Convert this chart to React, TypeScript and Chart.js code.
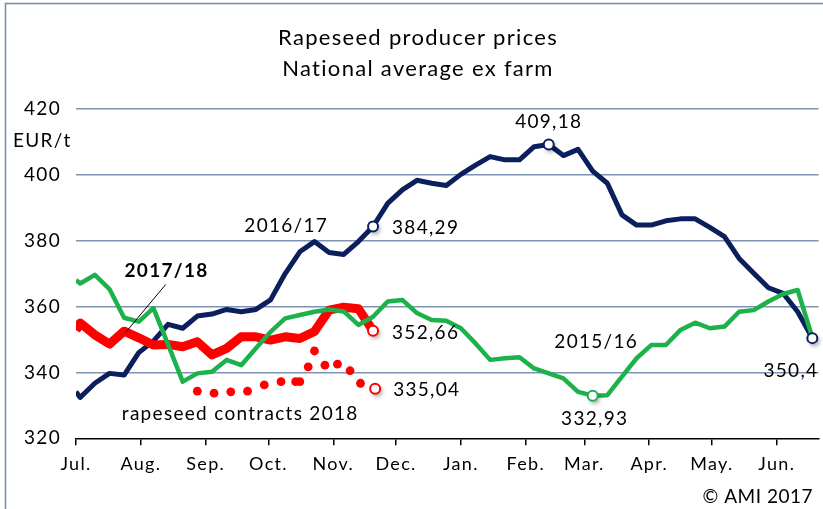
import React, { useEffect, useRef } from 'react';
import { Chart, registerables } from 'chart.js';

Chart.register(...registerables);

// ---- axis data ----
const monthLabels = ['Jul.', 'Aug.', 'Sep.', 'Oct.', 'Nov.', 'Dec.', 'Jan.', 'Feb.', 'Mar.', 'Apr.', 'May.', 'Jun.'];
const monthStartDays = [0, 31, 62, 92, 123, 153, 184, 215, 243, 274, 304, 335];
const yTickValues = [320, 340, 360, 380, 400, 420];

// ---- observation dates (days since 1 July) ----
const weekDays = [
  0, 2, 9, 16, 23, 30, 37, 44, 51, 58, 65, 72, 79, 86, 93, 100, 107, 114, 121, 128, 135, 142,
  149, 156, 163, 170, 177, 184, 191, 198, 205, 212, 219, 226, 233, 240, 247, 254, 261, 268,
  275, 282, 289, 296, 303, 310, 317, 324, 331, 338, 345, 352,
];

// ---- series values (EUR/t) ----
const prices2016_17 = [
  334.1, 332.4, 336.7, 339.7, 339.2, 346.0, 349.5, 354.6, 353.4, 357.1, 357.7, 359.1, 358.4, 359.1,
  362.0, 370.0, 376.6, 379.7, 376.4, 375.8, 379.7, 384.29, 391.3, 395.4, 398.3, 397.4, 396.7,
  400.1, 402.9, 405.5, 404.5, 404.5, 408.5, 409.18, 405.8, 407.7, 401.1, 397.4, 387.8, 384.7,
  384.7, 386.0, 386.6, 386.6, 384.0, 381.2, 374.6, 370.1, 365.7, 364.0, 358.4, 350.4,
];
const prices2015_16 = [
  368.0, 367.0, 369.6, 365.3, 356.6, 355.4, 359.5, 348.5, 337.2, 339.7, 340.2, 343.8, 342.2,
  347.3, 352.3, 356.4, 357.4, 358.4, 359.1, 358.5, 354.4, 356.9, 361.5, 362.0, 358.0, 355.9,
  355.7, 353.4, 348.8, 343.8, 344.3, 344.6, 341.2, 339.7, 338.2, 334.1, 332.93, 333.1, 338.7,
  344.3, 348.3, 348.3, 352.9, 355.1, 353.4, 353.9, 358.4, 358.9, 361.5, 363.8, 365.0, 350.6,
];
const prices2017_18 = [
  352.8, 355.0, 351.4, 348.6, 352.5, 350.5, 348.3, 348.5, 347.8, 349.3, 345.3, 347.3, 350.8,
  350.8, 349.8, 350.8, 350.3, 352.4, 358.9, 359.8, 359.3, 352.66,
];

// rapeseed contracts 2018
const contractDays = [58, 66, 74, 82, 90, 98, 105, 107, 111, 114, 119, 125, 131, 136, 143];
const contractPrices = [334.3, 333.7, 334.1, 334.3, 336.2, 337.2, 337.2, 337.2, 341.7, 346.5, 342.2, 342.5, 340.5, 336.7, 335.04];

// highlighted points (days)
const markers2016_17 = [142, 226, 352];
const markers2015_16 = [247];
const markers2017_18 = [142];
const markersContracts = [143];

const BLUE = '#0B1F5C';
const GREEN = '#1DB14B';
const RED = '#FF0000';
const GRID = '#7D93B3';
const FONT = 'Lato, "Open Sans", sans-serif';
const SPACING = '1.3px';

const toPoints = (days: number[], vals: number[]) => vals.map((v, i) => ({ x: days[i], y: v }));

const fmt = (v: number) => String(v).replace('.', ',');

const spacingPlugin = {
  id: 'spacing',
  beforeLayout(chart: any) {
    chart.ctx.letterSpacing = SPACING;
  },
  beforeDraw(chart: any) {
    chart.ctx.letterSpacing = SPACING;
  },
};

const decorPlugin = {
  id: 'decor',
  afterDatasetsDraw(chart: any) {
    const { ctx, scales } = chart;
    const xs = scales.x;
    const ys = scales.y;
    const px = (d: number) => xs.getPixelForValue(d);
    const py = (v: number) => ys.getPixelForValue(v);

    // open markers with a soft shadow
    const drawMarker = (d: number, v: number, color: string) => {
      ctx.save();
      ctx.shadowColor = 'rgba(0,0,0,0.35)';
      ctx.shadowBlur = 4;
      ctx.shadowOffsetX = 2;
      ctx.shadowOffsetY = 3;
      ctx.beginPath();
      ctx.arc(px(d), py(v), 5, 0, Math.PI * 2);
      ctx.fillStyle = '#fff';
      ctx.fill();
      ctx.shadowColor = 'rgba(0,0,0,0)';
      ctx.lineWidth = 2;
      ctx.strokeStyle = color;
      ctx.stroke();
      ctx.restore();
    };
    markers2016_17.forEach((d) => drawMarker(d, prices2016_17[weekDays.indexOf(d)], BLUE));
    markers2015_16.forEach((d) => drawMarker(d, prices2015_16[weekDays.indexOf(d)], GREEN));
    markers2017_18.forEach((d) => drawMarker(d, prices2017_18[weekDays.indexOf(d)], RED));
    markersContracts.forEach((d) => drawMarker(d, contractPrices[contractDays.indexOf(d)], RED));

    ctx.save();
    ctx.letterSpacing = SPACING;
    ctx.fillStyle = '#000';
    ctx.textBaseline = 'middle';
    ctx.font = `19px ${FONT}`;

    // value labels
    ctx.textAlign = 'left';
    ctx.fillText(fmt(prices2016_17[21]), px(weekDays[21]) + 19, py(prices2016_17[21]) + 1);
    ctx.fillText(fmt(prices2017_18[21]), px(weekDays[21]) + 19, py(prices2017_18[21]) + 2);
    ctx.fillText(fmt(contractPrices[14]), px(contractDays[14]) + 18, py(contractPrices[14]) + 1);
    ctx.textAlign = 'center';
    ctx.fillText(fmt(prices2016_17[33]), px(weekDays[33]), py(prices2016_17[33]) - 23);
    ctx.fillText(fmt(prices2015_16[36]), px(weekDays[36]) + 2, py(prices2015_16[36]) + 23);
    ctx.textAlign = 'right';
    ctx.fillText(fmt(prices2016_17[51]), px(weekDays[51]) + 6, py(prices2016_17[51]) + 33);

    // series names
    ctx.textAlign = 'center';
    ctx.fillText('2016/17', px(100.5), py(384.4));
    ctx.fillText('2015/16', px(248.7), py(349.2));
    ctx.font = `bold 19px ${FONT}`;
    ctx.fillText('2017/18', px(43.3), py(370.8));
    ctx.font = `19px ${FONT}`;
    ctx.textAlign = 'left';
    ctx.fillText('rapeseed contracts 2018', px(21.9), py(327.3));

    // leader line
    ctx.strokeStyle = '#000';
    ctx.lineWidth = 1;
    ctx.beginPath();
    ctx.moveTo(px(42.9), py(366.7));
    ctx.lineTo(px(23.8), py(352.2));
    ctx.stroke();

    // unit
    ctx.textAlign = 'left';
    ctx.fillText('EUR/t', 13, py(410.2));

    // copyright
    ctx.letterSpacing = '0.5px';
    ctx.textAlign = 'right';
    ctx.fillText('\u00A9 AMI 2017', 813, 497);

    // title
    ctx.letterSpacing = SPACING;
    ctx.textAlign = 'center';
    ctx.font = `22px ${FONT}`;
    ctx.fillText('Rapeseed producer prices', 418, 38);
    ctx.fillText('National average ex farm', 418, 69);

    // frame
    ctx.strokeStyle = '#6F8BB0';
    ctx.lineWidth = 1.5;
    ctx.strokeRect(5.5, 3.5, 900, 600);
    ctx.restore();
  },
};

export default function App() {
  const ref = useRef<HTMLCanvasElement | null>(null);

  useEffect(() => {
    if (!ref.current) return;
    const chart = new Chart(ref.current, {
      type: 'line',
      data: {
        datasets: [
          {
            label: '2015/16',
            data: toPoints(weekDays, prices2015_16),
            borderColor: GREEN,
            borderWidth: 4.5,
            borderJoinStyle: 'round',
            pointRadius: 0,
            tension: 0,
          },
          {
            label: '2017/18',
            data: toPoints(weekDays, prices2017_18),
            borderColor: RED,
            borderWidth: 9,
            borderJoinStyle: 'round',
            pointRadius: 0,
            tension: 0,
          },
          {
            label: '2016/17',
            data: toPoints(weekDays, prices2016_17),
            borderColor: BLUE,
            borderWidth: 5,
            borderJoinStyle: 'round',
            pointRadius: 0,
            tension: 0,
          },
          {
            label: 'rapeseed contracts 2018',
            data: toPoints(contractDays, contractPrices),
            showLine: false,
            borderColor: RED,
            pointRadius: (c: any) => (c.raw && markersContracts.includes(c.raw.x) ? 0 : 4.4),
            pointBackgroundColor: RED,
            pointBorderColor: RED,
            pointBorderWidth: 0,
          },
        ],
      },
      options: {
        responsive: false,
        animation: false,
        events: [],
        layout: { padding: { top: 108.8, right: 2.3, left: 0, bottom: 0 } },
        plugins: {
          legend: { display: false },
          tooltip: { enabled: false },
          title: { display: false },
        },
        scales: {
          x: {
            type: 'linear',
            min: 0,
            max: 355,
            afterFit: (s: any) => {
              s.height = 70.7;
            },
            afterBuildTicks: (s: any) => {
              s.ticks = monthStartDays.map((v) => ({ value: v }));
            },
            ticks: {
              autoSkip: false,
              maxRotation: 0,
              color: '#000',
              padding: 8,
              font: { family: FONT, size: 18 },
              callback: (_v: any, i: number) => monthLabels[i],
            },
            grid: {
              drawOnChartArea: false,
              drawTicks: true,
              tickLength: 7,
              color: '#000',
              lineWidth: 1.5,
            },
            border: { display: true, color: '#000', width: 1.5 },
          },
          y: {
            type: 'linear',
            min: 320,
            max: 420,
            afterFit: (s: any) => {
              s.width = 76;
            },
            afterBuildTicks: (s: any) => {
              s.ticks = yTickValues.map((v) => ({ value: v }));
            },
            ticks: {
              color: '#000',
              padding: 15,
              font: { family: FONT, size: 19 },
            },
            grid: {
              drawTicks: false,
              color: (c: any) => (c.tick && c.tick.value === 320 ? 'rgba(0,0,0,0)' : GRID),
              lineWidth: 1.5,
            },
            border: { display: false },
          },
        },
      },
      plugins: [spacingPlugin, decorPlugin],
    });
    return () => chart.destroy();
  }, []);

  return (
    <div style={{ position: 'absolute', left: 0, top: 0, width: 823, height: 509, background: '#fff' }}>
      <canvas ref={ref} width={823} height={509} style={{ display: 'block' }} />
    </div>
  );
}
